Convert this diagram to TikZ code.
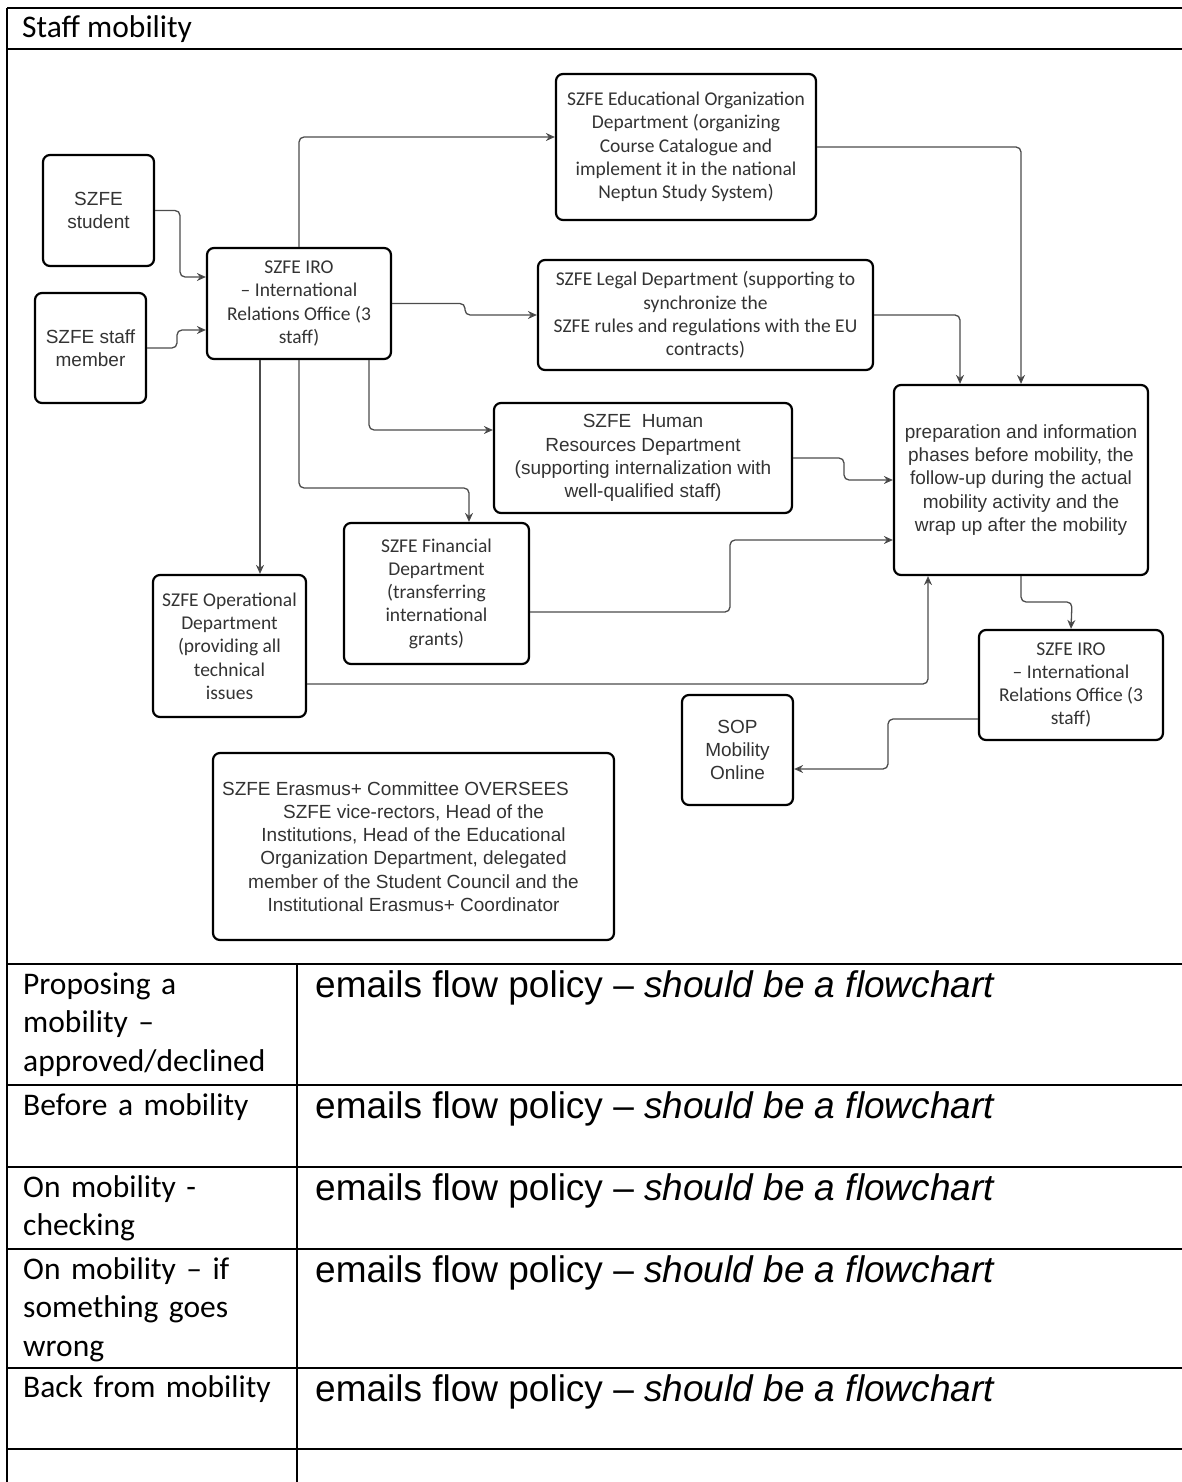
\documentclass[tikz,border=0pt]{standalone}
\usepackage{fontspec}
\setmainfont{Carlito}
\newfontfamily\arial{Liberation Sans}
\usetikzlibrary{arrows.meta}

\begin{document}
\begin{tikzpicture}[x=1pt,y=-1pt,
    box/.style={draw,line width=2.2pt,rounded corners=7pt,inner sep=0pt,align=center,text=black!80},
    cbox/.style={box,font=\fontsize{19.5}{23.3}\selectfont},
    abox/.style={box,font=\arial\fontsize{19}{23.3}\selectfont},
    link/.style={line width=1.3pt,draw=black!70,rounded corners=5pt,-{Stealth[length=9pt,width=8pt,fill=black]}},
    rule/.style={line width=2pt},
    rowlabel/.style={anchor=base west,inner sep=0pt,text width=268pt,align=left,font=\fontsize{31.5}{38.5}\selectfont},
    rowtext/.style={anchor=base west,inner sep=0pt,font=\arial\fontsize{37}{44}\selectfont}]
  \useasboundingbox (0,0) rectangle (1182,1482);

  % table frame
  \draw[rule] (7,8) -- (1182,8);
  \draw[rule] (7,49) -- (1182,49);
  \draw[rule] (7,8) -- (7,1482);
  \foreach \y in {964,1085,1167,1249,1368,1449}
     \draw[rule] (7,\y) -- (1182,\y);
  \draw[rule] (297,964) -- (297,1482);
  \node[anchor=base west,inner sep=0pt,font=\fontsize{31.5}{38}\selectfont] (title) at (22,37.5) {Staff mobility};

  % diagram
  \node[abox,minimum width=111pt,minimum height=111pt] (student) at (98.5,210.5) {SZFE\\student};
  \node[abox,minimum width=111pt,minimum height=110pt] (staffm) at (90.5,348) {SZFE staff\\member};
  \node[cbox,minimum width=184pt,minimum height=111pt] (iro) at (299,303.5)
     {SZFE IRO\\– International\\Relations Office (3\\staff)};
  \node[cbox,minimum width=260pt,minimum height=146pt] (edu) at (686,147)
     {SZFE Educational Organization\\Department (organizing\\Course Catalogue and\\implement it in the national\\Neptun Study System)};
  \node[cbox,minimum width=335pt,minimum height=110pt] (legal) at (705.5,315)
     {SZFE Legal Department (supporting to\\synchronize the\\SZFE rules and regulations with the EU\\contracts)};
  \node[abox,minimum width=298pt,minimum height=110pt] (hr) at (643,458)
     {SZFE\ \ Human\\Resources Department\\(supporting internalization with\\well-qualified staff)};
  \node[cbox,minimum width=185pt,minimum height=141pt] (fin) at (436.5,593.5)
     {SZFE Financial\\Department\\(transferring\\international\\grants)};
  \node[cbox,minimum width=153pt,minimum height=142pt] (oper) at (229.5,646)
     {SZFE Operational\\Department\\(providing all\\technical\\issues};
  \node[abox,minimum width=254pt,minimum height=190pt] (prep) at (1021,480)
     {preparation and information\\phases before mobility, the\\follow-up during the actual\\mobility activity and the\\wrap up after the mobility};
  \node[cbox,minimum width=184pt,minimum height=110pt] (iro2) at (1071,685)
     {SZFE IRO\\– International\\Relations Office (3\\staff)};
  \node[abox,minimum width=111pt,minimum height=110pt] (sop) at (737.5,750) {SOP\\Mobility\\Online};
  \node[abox,minimum width=401pt,minimum height=187pt] (erasmus) at (413.5,846.5)
     {SZFE Erasmus+ Committee OVERSEES\hspace*{36pt}\\SZFE vice-rectors, Head of the\\Institutions, Head of the Educational\\Organization Department, delegated\\member of the Student Council and the\\Institutional Erasmus+ Coordinator};

  \draw[link] (student.east) -| (180,277) -- (iro.west |- 180,277);
  \draw[link] (staffm.east) -| (177,330) -- (iro.west |- 177,330);
  \draw[link] (iro.north) |- ([yshift=10pt]edu.west);
  \draw[link] (iro.east) -| (465,315) -- (legal.west);
  \draw[link] ([xshift=-39pt]iro.south) -- ([xshift=-39pt]iro.south |- oper.north);
  \draw[link] (iro.south) |- (469,488) -- ([xshift=32.5pt]fin.north);
  \draw[link] ([xshift=70pt]iro.south) |- ([yshift=28pt]hr.west);
  \draw[link] (edu.east) -| (prep.north);
  \draw[link] (legal.east) -| ([xshift=-61pt]prep.north);
  \draw[link] (hr.east) -| (844,480) -- (prep.west);
  \draw[link] ([yshift=-18.5pt]fin.east) -| (730,540) -- ([yshift=-60pt]prep.west);
  \draw[link] ([yshift=-38pt]oper.east) -| ([xshift=-93pt]prep.south);
  \draw[link] (prep.south) |- (1072,602) -- (iro2.north);
  \draw[link] ([yshift=-34pt]iro2.west) -| (888,769) -- ([yshift=-19pt]sop.east);

  % rows
  \node[rowlabel] (lab1) at (23,994) {Proposing a\\mobility –\\approved/declined};
  \node[rowlabel] (lab2) at (23,1115) {Before a mobility};
  \node[rowlabel] (lab3) at (23,1197) {On mobility -\\checking};
  \node[rowlabel] (lab4) at (23,1279) {On mobility – if\\something goes\\wrong};
  \node[rowlabel] (lab5) at (23,1397) {Back from mobility};
  \foreach \y/\n in {997/1,1118/2,1200/3,1282/4,1401/5}
     \node[rowtext] (flow\n) at (315,\y) {emails flow policy – \textit{should be a flowchart}};
\end{tikzpicture}
\end{document}
